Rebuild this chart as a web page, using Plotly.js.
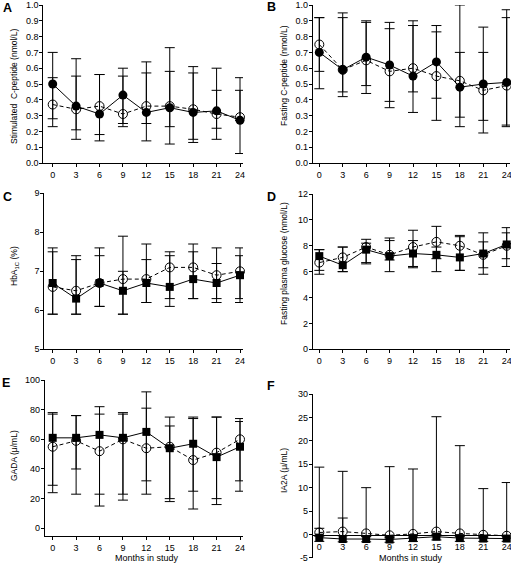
<!DOCTYPE html>
<html><head><meta charset="utf-8">
<script src="https://cdn.plot.ly/plotly-3.0.1.min.js"></script>
<style>html,body{margin:0;padding:0;background:#fff}</style>
</head><body><div id="chart" style="width:511px;height:566px"></div>
<script>
const months = [0,3,6,9,12,15,18,21,24];

// A: Stimulated C-peptide (nmol/L)
const aFilled   = [0.50,0.36,0.31,0.43,0.32,0.35,0.32,0.33,0.27];
const aFilledHi = [0.54,0.55,0.56,0.55,0.57,0.73,0.57,0.46,0.54];
const aFilledLo = [0.28,0.21,0.14,0.25,0.25,0.12,0.15,0.22,0.06];
const aOpen     = [0.37,0.34,0.36,0.31,0.36,0.36,0.34,0.31,0.29];
const aOpenHi   = [0.70,0.66,0.56,0.60,0.64,0.58,0.61,0.60,0.46];
const aOpenLo   = [0.23,0.15,0.18,0.23,0.14,0.23,0.13,0.15,0.27];

// B: Fasting C-peptide (nmol/L)
const bFilled   = [0.70,0.59,0.67,0.62,0.55,0.64,0.48,0.50,0.51];
const bFilledHi = [0.92,0.95,0.90,0.85,0.87,0.87,0.70,0.70,0.97];
const bFilledLo = [0.58,0.42,0.44,0.39,0.45,0.27,0.29,0.27,0.23];
const bOpen     = [0.75,0.59,0.65,0.58,0.60,0.55,0.52,0.46,0.49];
const bOpenHi   = [0.92,0.92,0.89,0.89,0.90,0.83,1.00,0.86,0.92];
const bOpenLo   = [0.47,0.45,0.49,0.35,0.32,0.41,0.23,0.19,0.24];

// C: HbA1c (%)
const cFilled   = [6.7,6.3,6.7,6.5,6.7,6.6,6.8,6.7,6.9];
const cFilledHi = [7.5,7.4,7.6,7.0,7.7,7.5,7.5,7.2,7.6];
const cFilledLo = [5.9,5.9,6.1,5.9,6.2,6.1,6.3,6.2,6.2];
const cOpen     = [6.6,6.5,6.7,6.8,6.8,7.1,7.1,6.9,7.0];
const cOpenHi   = [7.6,7.3,7.4,7.9,7.3,7.4,7.7,7.6,7.4];
const cOpenLo   = [5.9,5.9,6.1,5.9,6.2,6.3,6.3,6.3,6.3];

// D: Fasting plasma glucose (nmol/L)
const dFilled   = [7.2,6.5,7.7,7.2,7.4,7.3,7.1,7.4,8.1];
const dFilledHi = [7.7,7.9,8.2,8.4,8.4,7.9,8.7,9.0,9.4];
const dFilledLo = [6.1,6.0,6.6,6.0,6.3,6.0,6.1,5.8,6.4];
const dOpen     = [6.7,7.1,7.9,7.3,7.9,8.3,8.0,7.3,8.0];
const dOpenHi   = [7.7,7.9,8.5,8.6,9.2,9.5,8.8,8.3,9.0];
const dOpenLo   = [5.8,6.0,6.7,6.9,6.4,7.0,6.1,6.3,7.0];

// E: GADA (μ/mL)
const eFilled   = [61,61,63,61,65,54,57,48,55];
const eFilledHi = [77,76,77,77,92,75,74,75,72];
const eFilledLo = [29,23,23,19,32,18,25,16,32];
const eOpen     = [55,59,52,60,54,55,46,51,60];
const eOpenHi   = [78,76,82,78,81,69,75,75,74];
const eOpenLo   = [24,40,15,23,23,20,13,20,25];

// F: IA2A (μ/mL)
const fFilled   = [-0.7,-1.0,-1.0,-1.1,-0.8,-0.5,-0.8,-0.9,-0.9];
const fFilledHi = [1.3,3.5,-0.4,-0.6,-0.3,0.0,-0.3,-0.4,-0.4];
const fFilledLo = [-1.5,-1.6,-1.6,-1.7,-1.5,-1.2,-1.5,-1.5,-1.5];
const fOpen     = [0.4,0.6,0.2,-0.2,0.1,0.6,0.2,-0.1,-0.3];
const fOpenHi   = [14.4,13.5,10.0,14.5,14.0,25.2,19.0,9.8,11.1];
const fOpenLo   = [-0.4,-0.3,-0.5,-0.8,-0.6,-0.3,-0.5,-0.7,-0.9];

const xTickVals = [0,3,6,9,12,15,18,21,24];
const xTickText = ['0','3','6','9','12','15','18','21','24'];
const fYTickVals = [-5,0,5,10,15,20,25,30];
const fYTickText = ['-5','0','5','10','15','20','25','30'];

const panelLetters = ['A','B','C','D','E','F'];
const yTitles = ['Stimulated  C-peptide (nmol/L)','Fasting C-peptide (nmol/L)','HbA<sub>1C</sub> (%)',
  'Fasting plasma glucose (nmol/L)','GADA (μ/mL)','IA2A (μ/mL)'];
const xTitle = 'Months in study';

const W = 511, H = 566;
const FONT = 'Arial, "Liberation Sans", sans-serif';

const panels = [
  {f:[aFilled,aFilledHi,aFilledLo], o:[aOpen,aOpenHi,aOpenLo], sym:'circle', fs:9,
   x0:43.3,x1:243,xz:52.7,x24:240,y0:5,y1:163,yr:[0,1],dt:0.1,fmt:'.1f',
   letter:[7,8], yt:[14,87]},
  {f:[bFilled,bFilledHi,bFilledLo], o:[bOpen,bOpenHi,bOpenLo], sym:'circle', fs:9,
   x0:312.7,x1:510,xz:319.3,x24:506.7,y0:5,y1:163,yr:[0,1],dt:0.1,fmt:'.1f',
   letter:[271,7], yt:[284,76]},
  {f:[cFilled,cFilledHi,cFilledLo], o:[cOpen,cOpenHi,cOpenLo], sym:'square', fs:8,
   x0:44.3,x1:243,xz:52.7,x24:240,y0:193.3,y1:349.3,yr:[5,9],dt:1,fmt:'',
   letter:[7,197], yt:[14,266]},
  {f:[dFilled,dFilledHi,dFilledLo], o:[dOpen,dOpenHi,dOpenLo], sym:'square', fs:8,
   x0:312.7,x1:510,xz:319.3,x24:506.7,y0:194,y1:349.3,yr:[0,12],dt:2,fmt:'',
   letter:[271,197], yt:[284,264]},
  {f:[eFilled,eFilledHi,eFilledLo], o:[eOpen,eOpenHi,eOpenLo], sym:'square', fs:8,
   x0:44.8,x1:243,xz:52.7,x24:240,y0:380,y1:535.7,yr:[-5,100],dt:20,fmt:'',
   letter:[6,383], yt:[14,456], xt:[147,558]},
  {f:[fFilled,fFilledHi,fFilledLo], o:[fOpen,fOpenHi,fOpenLo], sym:'square', fs:8,
   x0:312.7,x1:510,xz:319.3,x24:506.7,y0:394.3,y1:557.7,yr:[-5,30],
   tv:fYTickVals, tt:fYTickText, xpos:535,
   letter:[271,386], yt:[284,471], xt:[411,558.3]}
];

const traces = [];
const layout = {
  width:W, height:H, margin:{l:0,r:0,t:0,b:0},
  paper_bgcolor:'#fff', plot_bgcolor:'rgba(0,0,0,0)',
  showlegend:false, font:{family:FONT, size:9, color:'#000'},
  annotations:[]
};

panels.forEach((p,i)=>{
  const n = i+1, sx = n===1?'':String(n);
  const err = (y,hi,lo)=>({type:'data', symmetric:false,
     array: hi.map((v,k)=>Math.max(0,v-y[k])), arrayminus: lo.map((v,k)=>Math.max(0,y[k]-v)),
     color:'#000', thickness:1, width:5});
  traces.push({x:months, y:p.o[0], xaxis:'x'+sx, yaxis:'y'+sx, type:'scatter', mode:'lines+markers',
    line:{color:'#000', width:1, dash:'4px,3px'},
    marker:{symbol:'circle-open', size:9, color:'#000', line:{width:1,color:'#000'}},
    error_y: err(p.o[0],p.o[1],p.o[2]), hoverinfo:'none', cliponaxis:false});
  traces.push({x:months, y:p.f[0], xaxis:'x'+sx, yaxis:'y'+sx, type:'scatter', mode:'lines+markers',
    line:{color:'#000', width:1},
    marker:{symbol:p.sym, size:p.fs, color:'#000'},
    error_y: err(p.f[0],p.f[1],p.f[2]), hoverinfo:'none', cliponaxis:false});

  const ppu = (p.x24-p.xz)/24;
  const xr = [-(p.xz-p.x0)/ppu, 24+(p.x1-p.x24)/ppu];
  const xa = {domain:[p.x0/W, p.x1/W], range:xr, anchor:'y'+sx,
    tickmode:'array', tickvals:xTickVals, ticktext:xTickText,
    showgrid:false, zeroline:false, showline:true, linecolor:'#000', linewidth:1,
    ticks:'outside', ticklen:3, tickwidth:1, tickcolor:'#000', ticklabeloverflow:'allow',
    tickfont:{size:9, family:FONT, color:'#000'}, fixedrange:true};
  if(p.xpos!==undefined){ xa.anchor='free'; xa.position = 1 - p.xpos/H; }
  const ya = {domain:[1-p.y1/H, 1-p.y0/H], range:p.yr, anchor:'x'+sx,
    showgrid:false, zeroline:false, showline:true, linecolor:'#000', linewidth:1,
    ticks:'outside', ticklen:3, tickwidth:1, tickcolor:'#000', ticklabelstandoff:-1,
    ticklabeloverflow:'allow',
    tickfont:{size:9, family:FONT, color:'#000'}, fixedrange:true};
  if(p.tv){ ya.tickmode='array'; ya.tickvals=p.tv; ya.ticktext=p.tt; }
  else { ya.tick0=0; ya.dtick=p.dt; if(p.fmt) ya.tickformat=p.fmt; }
  layout['xaxis'+sx]=xa; layout['yaxis'+sx]=ya;

  layout.annotations.push({text:'<b>'+panelLetters[i]+'</b>', xref:'paper', yref:'paper',
    x:p.letter[0]/W, y:1-p.letter[1]/H, xanchor:'center', yanchor:'middle', showarrow:false,
    font:{size:12.5, family:FONT, color:'#000'}});
  layout.annotations.push({text:yTitles[i], xref:'paper', yref:'paper', textangle:-90,
    x:p.yt[0]/W, y:1-p.yt[1]/H, xanchor:'center', yanchor:'middle', showarrow:false,
    font:{size:8.5, family:FONT, color:'#000'}});
  if(p.xt){
    layout.annotations.push({text:xTitle, xref:'paper', yref:'paper',
      x:p.xt[0]/W, y:1-p.xt[1]/H, xanchor:'center', yanchor:'middle', showarrow:false,
      font:{size:9, family:FONT, color:'#000'}});
  }
});

Plotly.newPlot('chart', traces, layout, {staticPlot:true, displayModeBar:false});
</script></body></html>
